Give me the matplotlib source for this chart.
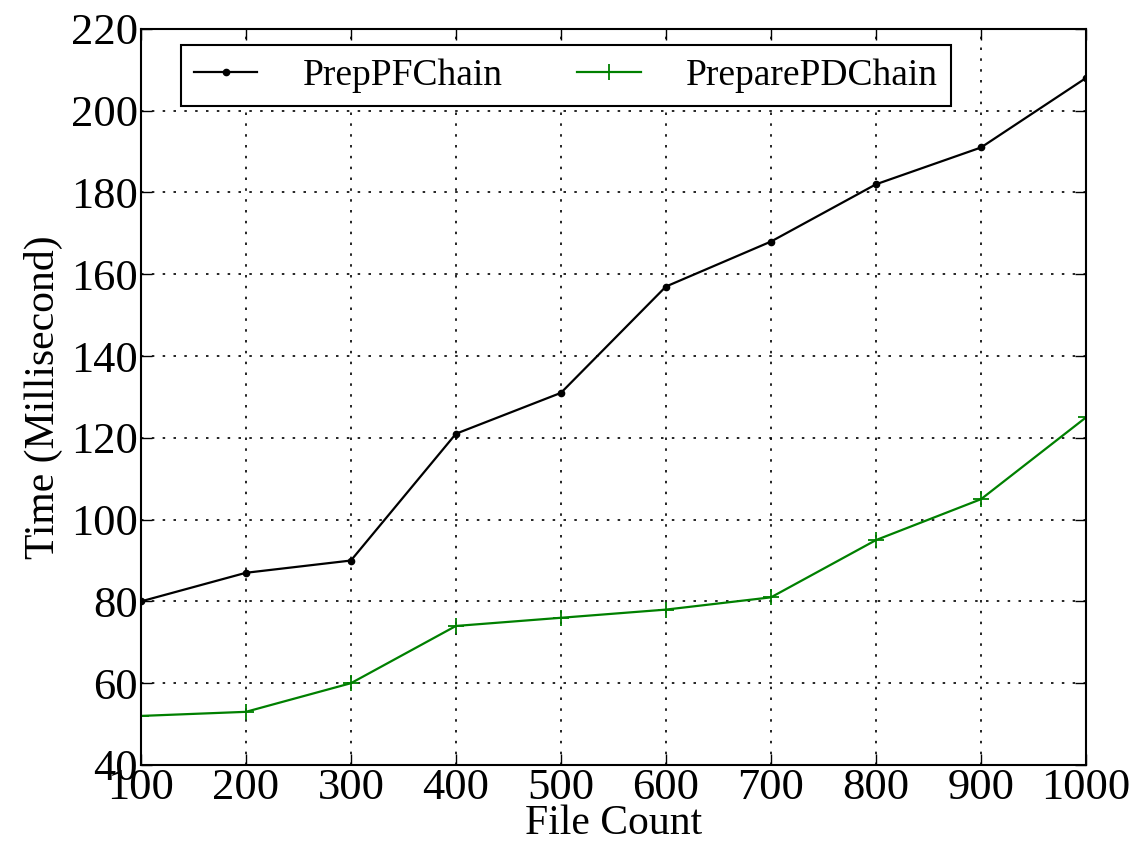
import matplotlib
matplotlib.use('Agg')
import matplotlib.pyplot as plt

file_count = [100, 200, 300, 400, 500, 600, 700, 800, 900, 1000]
prep_pf_chain = [80, 87, 90, 121, 131, 157, 168, 182, 191, 208]
prepare_pd_chain = [52, 53, 60, 74, 76, 78, 81, 95, 105, 125]
y_ticks = [40, 60, 80, 100, 120, 140, 160, 180, 200, 220]

plt.rcParams['font.family'] = ['Liberation Serif', 'DejaVu Serif']
plt.rcParams['xtick.direction'] = 'in'
plt.rcParams['ytick.direction'] = 'in'
plt.rcParams['xtick.top'] = True
plt.rcParams['ytick.right'] = True

fig = plt.figure(figsize=(11.36, 8.5), dpi=100)
ax = fig.add_axes([0.124, 0.1, 0.832, 0.866])

ax.plot(file_count, prep_pf_chain, color='k', marker='.', markersize=9, lw=1.6, label='PrepPFChain')
ax.plot(file_count, prepare_pd_chain, color='green', marker='+', markersize=12, mew=1.3, lw=1.6, label='PreparePDChain')

ax.set_xlim(100, 1000)
ax.set_ylim(40, 220)
ax.set_xticks(file_count)
ax.set_yticks(y_ticks)
ax.tick_params(labelsize=32, length=8, width=1, pad=2)
ax.grid(True, color='k', linestyle=(0, (1.5, 5)), linewidth=1.2)
for s in ax.spines.values():
    s.set_linewidth(1.5)

ax.set_xlabel('File Count', fontsize=30, labelpad=-2)
ax.set_ylabel('Time (Millisecond)', fontsize=30, labelpad=6)

# legend box sits just under the top spine, left of centre
leg = ax.legend(loc='upper left', bbox_to_anchor=(0.042, 0.978), borderaxespad=0,
                ncol=2, fontsize=27, fancybox=False, framealpha=1, edgecolor='k',
                borderpad=0.35, columnspacing=2.0, handlelength=1.7, handletextpad=1.2)
leg.get_frame().set_linewidth(1.5)

fig.savefig('out.png', dpi=100)
